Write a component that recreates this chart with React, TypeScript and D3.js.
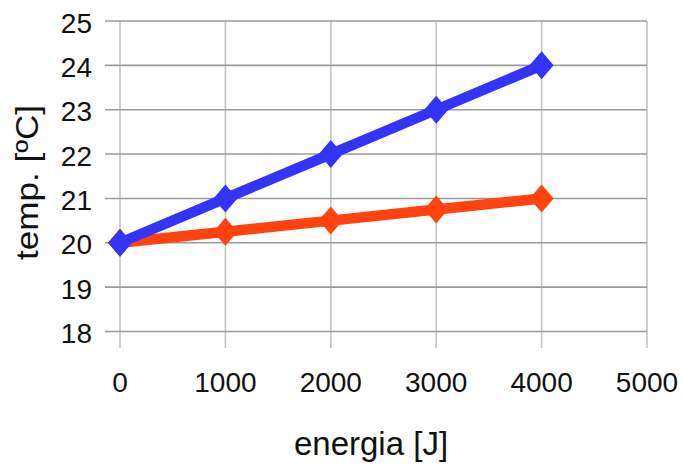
import { useEffect, useRef } from 'react';
import * as d3 from 'd3';

// energy steps (J) and the two measured temperature series (ºC)
const energia = [0, 1000, 2000, 3000, 4000];
const tempBlue = [20, 21, 22, 23, 24];
const tempOrange = [20, 20.25, 20.5, 20.75, 21];

const xTicks = [0, 1000, 2000, 3000, 4000, 5000];
const yTicks = [18, 19, 20, 21, 22, 23, 24, 25];

const COLORS = {
    blue: '#3434f8',
    orange: '#ff420e',
    gridH: '#9a9a9a',
    gridV: '#c4c4c4',
    text: '#111',
};

const FONT = '"Liberation Sans", Arial, sans-serif';

export default function App() {
    const svgRef = useRef<SVGSVGElement | null>(null);
    const width = 682;
    const height = 468;

    useEffect(() => {
        if (!svgRef.current) return;
        const svg = d3.select(svgRef.current);
        svg.selectAll('*').remove();

        const x = d3.scaleLinear().domain([0, 5000]).range([120, 647]);
        const y = d3.scaleLinear().domain([18, 25]).range([331.5, 21]);

        // vertical grid (lighter, runs below the 18 line)
        svg.append('g')
            .selectAll('line')
            .data(xTicks)
            .join('line')
            .attr('x1', d => x(d)).attr('x2', d => x(d))
            .attr('y1', y(25)).attr('y2', 348)
            .attr('stroke', COLORS.gridV)
            .attr('stroke-width', 1.6);

        // horizontal grid (darker, sticks out left of 0)
        svg.append('g')
            .selectAll('line')
            .data(yTicks)
            .join('line')
            .attr('x1', 105).attr('x2', x(5000))
            .attr('y1', d => y(d)).attr('y2', d => y(d))
            .attr('stroke', COLORS.gridH)
            .attr('stroke-width', 1.6);

        // tick labels
        svg.append('g')
            .selectAll('text')
            .data(yTicks)
            .join('text')
            .attr('x', 92)
            .attr('y', d => y(d) + 11.5)
            .attr('text-anchor', 'end')
            .style('font-family', FONT)
            .style('font-size', '28px')
            .style('fill', COLORS.text)
            .text(d => d);

        svg.append('g')
            .selectAll('text')
            .data(xTicks)
            .join('text')
            .attr('x', d => x(d))
            .attr('y', 392)
            .attr('text-anchor', 'middle')
            .style('font-family', FONT)
            .style('font-size', '28px')
            .style('fill', COLORS.text)
            .text(d => d);

        // axis titles
        svg.append('text')
            .attr('x', 371).attr('y', 455)
            .attr('text-anchor', 'middle')
            .style('font-family', FONT)
            .style('font-size', '33px')
            .style('fill', COLORS.text)
            .text('energia [J]');

        svg.append('text')
            .attr('transform', 'translate(38,182.5) rotate(-90)')
            .attr('text-anchor', 'middle')
            .attr('textLength', 155)
            .attr('lengthAdjust', 'spacingAndGlyphs')
            .style('font-family', FONT)
            .style('font-size', '32px')
            .style('fill', COLORS.text)
            .text('temp. [ºC]');

        const series = [
            { values: tempOrange, color: COLORS.orange },
            { values: tempBlue, color: COLORS.blue },
        ];

        const diamond = (cx: number, cy: number) =>
            `M${cx},${cy - 14}L${cx + 12},${cy}L${cx},${cy + 14}L${cx - 12},${cy}Z`;

        series.forEach(s => {
            const pts = energia.map((e, i) => [e, s.values[i]] as [number, number]);
            const line = d3.line<[number, number]>()
                .x(d => x(d[0]))
                .y(d => y(d[1]));

            svg.append('path')
                .datum(pts)
                .attr('d', line)
                .attr('fill', 'none')
                .attr('stroke', s.color)
                .attr('stroke-width', 10.5)
                .attr('stroke-linejoin', 'round');

            svg.append('g')
                .selectAll('path')
                .data(pts)
                .join('path')
                .attr('d', d => diamond(x(d[0]), y(d[1])))
                .attr('fill', s.color);
        });
    }, []);

    return (
        <svg ref={svgRef} width={width} height={height}
            style={{ position: 'absolute', left: 0, top: 0, background: '#fff' }} />
    );
}
